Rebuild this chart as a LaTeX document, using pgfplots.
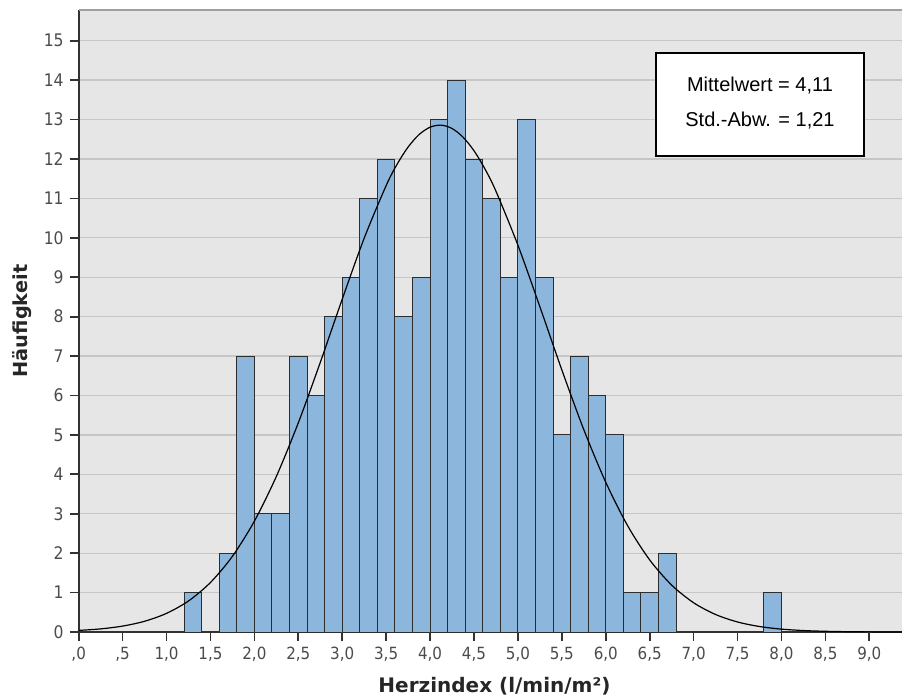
\documentclass[border=0pt]{standalone}
\usepackage{pgfplots}
\pgfplotsset{compat=1.18}
\usepackage{fontspec}
\setmainfont{DejaVu Sans}
\newfontfamily\dvc{DejaVu Sans Condensed}
\newfontfamily\dvs{DejaVu Sans}
\newfontfamily\lib{Liberation Sans}
\definecolor{barfill}{RGB}{140,182,219}
\definecolor{baredge}{RGB}{45,45,45}
\definecolor{bg}{RGB}{230,230,230}
\definecolor{gridc}{RGB}{198,198,198}
\definecolor{tickc}{RGB}{75,75,75}
\definecolor{axc}{RGB}{50,50,50}
\begin{document}
\begin{tikzpicture}
\begin{axis}[
  scale only axis,
  width=617.5pt, height=466.5pt,
  xmin=0, xmax=9.372, ymin=0, ymax=15.78,
  enlargelimits=false,
  clip=false,
  axis x line=bottom, axis y line=left,
  x axis line style={draw=axc, line width=1.3pt, -},
  y axis line style={draw=axc, line width=1.3pt, -},
  axis background/.style={fill=bg},
  ymajorgrids, grid style={draw=gridc, line width=1pt},
  xtick={0,0.5,...,9.0},
  xticklabels={{,0},{,5},{1,0},{1,5},{2,0},{2,5},{3,0},{3,5},{4,0},{4,5},{5,0},{5,5},{6,0},{6,5},{7,0},{7,5},{8,0},{8,5},{9,0}},
  ytick={0,1,...,15},
  yticklabels={0,1,2,3,4,5,6,7,8,9,10,11,12,13,14,15},
  tick align=outside,
  major tick length=6.75pt,
  every tick/.style={draw=axc, line width=1.3pt},
  xticklabel style={font=\dvc\fontsize{12.6}{12.6}\selectfont, text=tickc, yshift=-1pt},
  yticklabel style={font=\dvc\fontsize{13}{13}\selectfont, text=tickc, xshift=-1pt},
  xlabel={Herzindex (l/min/m²)},
  ylabel={Häufigkeit},
  xlabel style={font=\dvs\bfseries\fontsize{15}{15}\selectfont, text=black!85, at={(axis description cs:0.505,-0.0965)}, anchor=base},
  ylabel style={font=\dvs\bfseries\fontsize{14.5}{14.5}\selectfont, text=black!85, at={(axis description cs:-0.0688,0.5)}, anchor=center},
]
\addplot[ybar interval, fill=barfill, draw=baredge, line width=0.7pt] coordinates {
(1.2,1) (1.4,0) (1.6,2) (1.8,7) (2.0,3) (2.2,3) (2.4,7) (2.6,6) (2.8,8) (3.0,9)
(3.2,11) (3.4,12) (3.6,8) (3.8,9) (4.0,13) (4.2,14) (4.4,12) (4.6,11) (4.8,9) (5.0,13)
(5.2,9) (5.4,5) (5.6,7) (5.8,6) (6.0,5) (6.2,1) (6.4,1) (6.6,2) (6.8,0)
};
\addplot[ybar interval, fill=barfill, draw=baredge, line width=0.7pt] coordinates {
(7.8,1) (8.0,0)
};
\addplot[black, line width=0.9pt, smooth] coordinates {
(0,0.040) (0.25,0.079) (0.5,0.150) (0.75,0.272) (1.0,0.473) (1.25,0.787) (1.5,1.256)
(1.75,1.920) (2.0,2.812) (2.25,3.946) (2.5,5.306) (2.75,6.838) (3.0,8.443) (3.25,9.990)
(3.5,11.325) (3.625,11.868) (3.75,12.303) (3.875,12.620) (4.0,12.807) (4.125,12.859)
(4.25,12.774) (4.375,12.555) (4.5,12.209) (4.625,11.746)
(4.75,11.182) (5.0,9.812) (5.25,8.251) (5.5,6.649) (5.75,5.133) (6.0,3.798) (6.25,2.692)
(6.5,1.829) (6.75,1.190) (7.0,0.742) (7.25,0.444) (7.5,0.254) (7.75,0.139) (8.0,0.073)
(8.25,0.037) (8.5,0.018) (8.75,0.008) (9.0,0.003) (9.25,0.001) (9.372,0.0006)
};
\pgfplotsinvokeforeach{0,0.5,1.0,1.5,2.0,2.5,3.0,3.5,4.0,4.5,5.0,5.5,6.0,6.5,7.0,7.5,8.0,8.5,9.0}{
  \draw[axc, line width=1.3pt] (axis cs:#1,0) -- ++(0pt,-6.75pt);
}
\pgfplotsinvokeforeach{0,1,2,3,4,5,6,7,8,9,10,11,12,13,14,15}{
  \draw[axc, line width=1.3pt] (axis cs:0,#1) -- ++(-6.75pt,0pt);
}
\draw[black, line width=1.4pt, fill=white] (rel axis cs:0.7012,0.9309) rectangle (rel axis cs:0.9538,0.7653);
\node[font=\lib\fontsize{15}{15}\selectfont, anchor=base, inner sep=0pt] at (rel axis cs:0.8275,0.8682) {Mittelwert = 4,11};
\node[font=\lib\fontsize{15}{15}\selectfont, anchor=base, inner sep=0pt] at (rel axis cs:0.8275,0.8119) {Std.-Abw. = 1,21};
\end{axis}
\draw[gray!75, line width=1.5pt] (current axis.north west) -- (current axis.north east);
\pgfresetboundingbox
\path (-59pt,-50.25pt) rectangle (617.5pt,474pt);
\end{tikzpicture}
\end{document}
